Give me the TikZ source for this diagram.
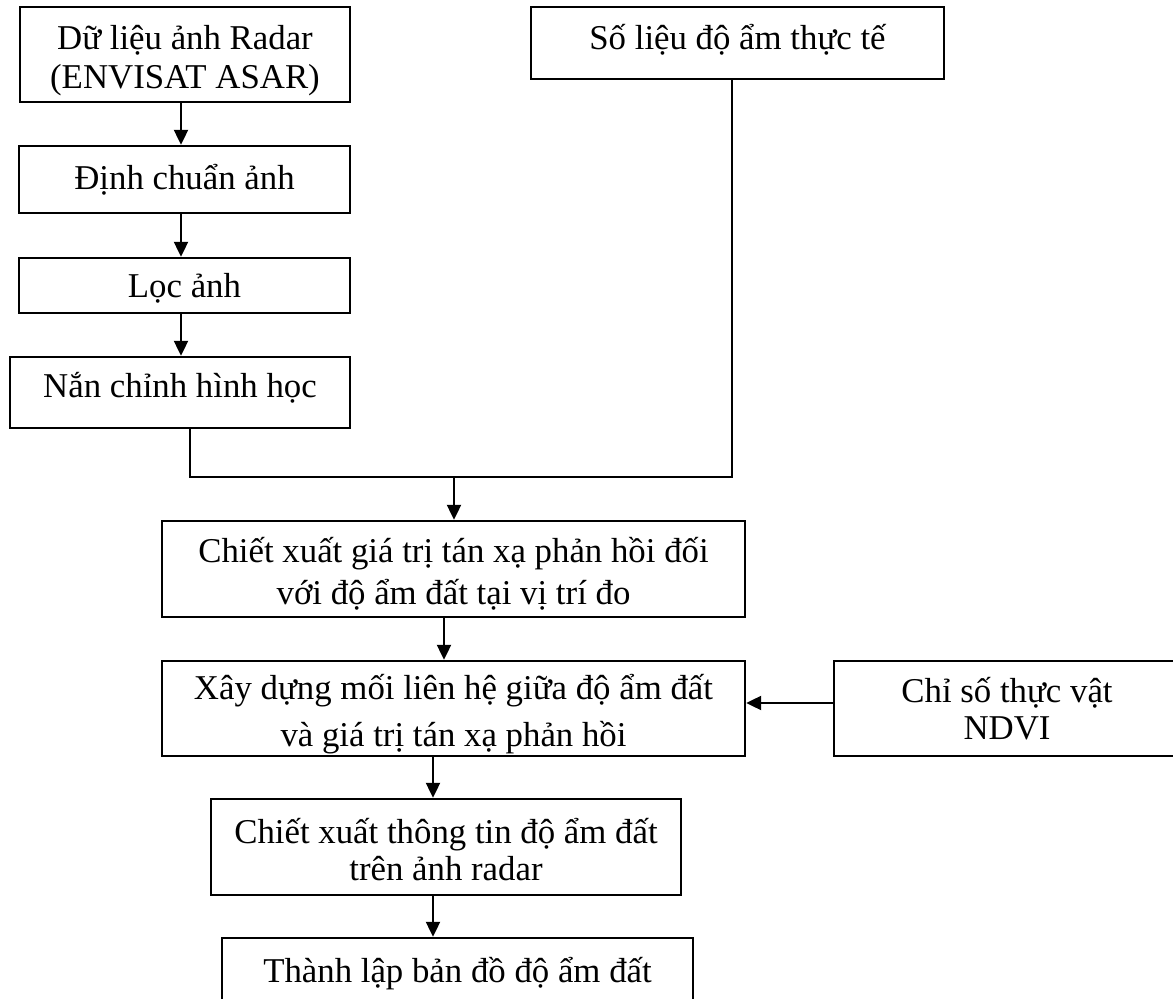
\documentclass[tikz,border=0pt]{standalone}
\usepackage{fontspec}
\setmainfont{Liberation Serif}
\usetikzlibrary{arrows.meta}

\tikzset{
  box/.style={draw=black, line width=1.2pt, rectangle, inner sep=0pt,
    align=center, text depth=0pt},
  arr/.style={line width=1.1pt, -{Triangle[length=7.5pt,width=7pt]}},
  wire/.style={line width=1.1pt},
}
\newcommand{\txt}[1]{\fontsize{17.4pt}{#1}\selectfont}

\begin{document}
\begin{tikzpicture}[x=0.5pt, y=-0.5pt]
  \useasboundingbox (0,0) rectangle (1173,999);
  \clip (0,0) rectangle (1173,999);

  % left column: image preprocessing
  \node[box, minimum width=165pt, minimum height=47.5pt, text height=34.5pt,
        font=\txt{19.5pt}] (radar) at (185,54.5)
        {Dữ liệu ảnh Radar\\(ENVISAT ASAR)};
  \node[box, minimum width=165.5pt, minimum height=33.5pt, text height=10.5pt,
        font=\txt{20pt}] (calib) at (184.5,179.5) {Định chuẩn ảnh};
  \node[box, minimum width=165.5pt, minimum height=27.5pt, text height=12.5pt,
        font=\txt{20pt}] (filter) at (184.5,285.5) {Lọc ảnh};
  \node[box, minimum width=170pt, minimum height=35.5pt, text height=5.5pt,
        font=\txt{20pt}] (geo) at (180,392.5) {Nắn chỉnh hình học};

  % field measurements
  \node[box, minimum width=206.5pt, minimum height=36pt, text height=7pt,
        font=\txt{20pt}] (field) at (737.5,43) {Số liệu độ ẩm thực tế};

  % main chain
  \node[box, minimum width=291.5pt, minimum height=48pt, text height=36pt,
        font=\txt{21pt}] (extract) at (453.5,569)
        {Chiết xuất giá trị tán xạ phản hồi đối\\với độ ẩm đất tại vị trí đo};
  \node[box, minimum width=291.5pt, minimum height=47.5pt, text height=38.5pt,
        font=\txt{23.5pt}] (relate) at (453.5,708.5)
        {Xây dựng mối liên hệ giữa độ ẩm đất\\và giá trị tán xạ phản hồi};
  \node[box, minimum width=173pt, minimum height=47.5pt, text height=31.5pt,
        font=\txt{18.5pt}] (ndvi) at (1007,708.5)
        {Chỉ số thực vật\\NDVI};
  \node[box, minimum width=235pt, minimum height=48pt, text height=33pt,
        font=\txt{18.5pt}] (info) at (446,847)
        {Chiết xuất thông tin độ ẩm đất\\trên ảnh radar};
  \node[box, minimum width=235.5pt, minimum height=41pt, text height=3pt,
        font=\txt{20pt}] (map) at (457.5,979) {Thành lập bản đồ độ ẩm đất};

  % reference abscissae of the connectors
  \coordinate (xa) at (181,0);
  \coordinate (xl) at (190,0);
  \coordinate (xr) at (732,0);
  \coordinate (xm) at (454,477);
  \coordinate (ym) at (0,477);
  \coordinate (xb) at (444,0);
  \coordinate (xc) at (433,0);
  \coordinate (yn) at (0,703);

  % preprocessing arrows
  \draw[arr] (radar.south -| xa) -- (calib.north -| xa);
  \draw[arr] (calib.south -| xa) -- (filter.north -| xa);
  \draw[arr] (filter.south -| xa) -- (geo.north -| xa);

  % merge of the two branches
  \draw[wire] (geo.south -| xl) -- (xl |- ym) -- (xr |- ym) -- (field.south -| xr);
  \draw[arr] (xm) -- (extract.north -| xm);

  % main chain arrows
  \draw[arr] (extract.south -| xb) -- (relate.north -| xb);
  \draw[arr] (ndvi.west |- yn) -- (relate.east |- yn);
  \draw[arr] (relate.south -| xc) -- (info.north -| xc);
  \draw[arr] (info.south -| xc) -- (map.north -| xc);
\end{tikzpicture}
\end{document}
